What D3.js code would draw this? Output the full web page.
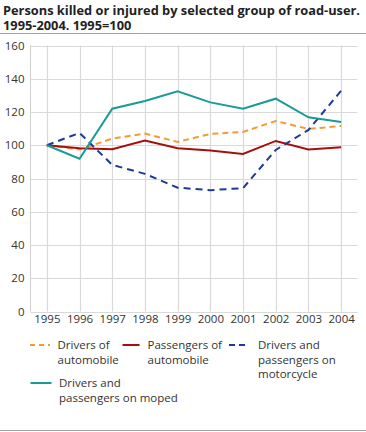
<!DOCTYPE html>
<html><head><meta charset="utf-8">
<script src="https://cdn.jsdelivr.net/npm/d3@7"></script>
<style>
body{margin:0;background:#fff;}
svg{display:block;font-family:"Open Sans",sans-serif;}
</style></head>
<body><svg id="c" width="366" height="432"></svg>
<script>
const years = ["1995","1996","1997","1998","1999","2000","2001","2002","2003","2004"];
const driversAuto   = [100, 97.4, 104, 107, 102, 106.8, 108, 114.6, 109.8, 111.6];
const passAuto      = [100, 98.2, 97.6, 102.8, 98.2, 96.8, 94.8, 102.6, 97.4, 98.8];
const motorcycle    = [100, 107.4, 88.2, 82.8, 74.5, 73, 74.2, 97.2, 109.2, 132.8];
const moped         = [100, 91.9, 122, 126.6, 132.4, 125.8, 122, 128, 116.8, 114];
const yTicks = [0,20,40,60,80,100,120,140,160];
const titleLines = ["Persons killed or injured by selected group of road-user.", "1995-2004. 1995=100"];

const series = [
  {name:["Drivers of","automobile"], values:driversAuto, color:"#f79a32", dash:"6,4"},
  {name:["Passengers of","automobile"], values:passAuto, color:"#a50f0f", dash:null},
  {name:["Drivers and","passengers on","motorcycle"], values:motorcycle, color:"#1c3a96", dash:"7,5"},
  {name:["Drivers and","passengers on moped"], values:moped, color:"#1a9b98", dash:null}
];

(function(){
const svg = d3.select("#c");
// title
const tg = svg.append("g");
const tFs = 13;
const tTexts = titleLines.map((t,i)=> tg.append("text").attr("x",3).attr("y",15+i*15).text(t)
    .attr("font-weight","bold").attr("font-size",tFs).attr("fill","#222"));
const w0 = tTexts[0].node().getComputedTextLength();
const ratio = 357/w0;
tTexts.forEach(tx=>{
  const w = tx.node().getComputedTextLength();
  tx.attr("textLength", w*ratio).attr("lengthAdjust","spacingAndGlyphs");
});

svg.append("line").attr("x1",0).attr("x2",366).attr("y1",33.5).attr("y2",33.5).attr("stroke","#a0a0a0").attr("stroke-width",1);
svg.append("line").attr("x1",0).attr("x2",366).attr("y1",430.5).attr("y2",430.5).attr("stroke","#a0a0a0").attr("stroke-width",1);

const pl=30.5, pr=357.5, pt=45.5, pb=311.5;
const x = d3.scalePoint().domain(years).range([pl,pr]).padding(0.5);
const y = d3.scaleLinear().domain([0,160]).range([pb,pt]);

const grid = svg.append("g");
grid.selectAll("line.h").data(yTicks).join("line")
  .attr("x1",pl).attr("x2",pr)
  .attr("y1",d=>Math.round(y(d))+0.5).attr("y2",d=>Math.round(y(d))+0.5)
  .attr("stroke","#d9d9d9").attr("stroke-width",1.2);
grid.selectAll("line.v").data(years).join("line")
  .attr("x1",d=>Math.round(x(d))+0.5).attr("x2",d=>Math.round(x(d))+0.5)
  .attr("y1",y(160)).attr("y2",y(0))
  .attr("stroke","#d9d9d9").attr("stroke-width",1.2);
grid.append("line").attr("x1",pl).attr("x2",pl).attr("y1",y(160)).attr("y2",y(0))
  .attr("stroke","#d0d0d0").attr("stroke-width",1);

const yAxis = svg.append("g").attr("transform",`translate(${pl},0)`)
  .call(d3.axisLeft(y).tickValues(yTicks).tickSize(0).tickPadding(6));
yAxis.select(".domain").remove();
yAxis.selectAll("text").attr("font-size",11.5).attr("fill","#333").attr("font-family","'Open Sans',sans-serif");

const xAxis = svg.append("g").attr("transform",`translate(0,${pb})`)
  .call(d3.axisBottom(x).tickSize(0).tickPadding(3));
xAxis.select(".domain").remove();
xAxis.selectAll("text").attr("font-size",11.5).attr("fill","#333").attr("font-family","'Open Sans',sans-serif");

const line = d3.line().x((d,i)=>x(years[i])).y(d=>y(d));
series.forEach(s=>{
  svg.append("path").datum(s.values).attr("d",line)
    .attr("fill","none").attr("stroke",s.color).attr("stroke-width",2)
    .attr("stroke-dasharray",s.dash);
});

const legPos = [
  {x:30, y:345, tx:57.5},
  {x:122.5, y:345, tx:147.5},
  {x:229, y:345, tx:258},
  {x:30.5, y:383, tx:59}
];
series.forEach((s,i)=>{
  const p = legPos[i];
  const g = svg.append("g");
  const sw = i===3 ? 21 : (i===1?17:20);
  g.append("line").attr("x1",p.x).attr("x2",p.x+sw).attr("y1",p.y).attr("y2",p.y)
    .attr("stroke",s.color).attr("stroke-width",2).attr("stroke-dasharray",s.dash? (i===0?"5,4":"6,4"):null);
  s.name.forEach((t,j)=>{
    g.append("text").attr("x",p.tx).attr("y",p.y+4+j*14.5).text(t)
      .attr("font-size",11.5).attr("fill","#333");
  });
});
})();
</script></body></html>
